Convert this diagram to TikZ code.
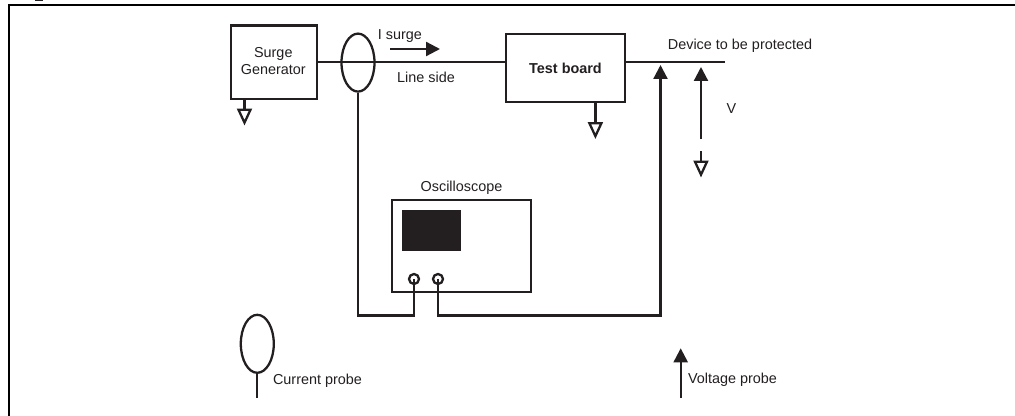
\documentclass[tikz,border=0pt]{standalone}
\usepackage{fontspec}
\setmainfont{Liberation Sans}
\usepackage{xcolor}
\usetikzlibrary{shapes, arrows.meta}
\definecolor{inkdark}{HTML}{231F20}
\tikzset{
  wire/.style={draw=inkdark,line width=1.3pt},
  unitbox/.style={wire,rectangle,inner sep=0pt,text=inkdark,align=center},
  ring/.style={wire,ellipse,inner sep=0pt,minimum width=.66cm,minimum height=1.16cm},
  jack/.style={wire,circle,inner sep=0pt,minimum size=.2cm},
  probe/.style={wire,-{Triangle[length=.28cm,width=.28cm]}},
  gnd/.style={wire,-{Triangle[open,fill=white,length=.34cm,width=.3cm]}},
  lbl/.style={text=inkdark,inner sep=0pt,align=center},
}
\begin{document}
\begin{tikzpicture}[x=.02cm,y=-.02cm,font=\fontsize{8.2}{9.8}\selectfont]
  \useasboundingbox (0,0) rectangle (1015,416);
  % page frame and caption remnant
  \draw[black,line width=1.3pt] (8.8,416) -- (8.8,5.3) -- (1015,5.3);
  \draw[inkdark,line width=.6pt] (35,.3) -- (43,.3);

  \coordinate (lineend) at (725,62);
  \coordinate (lowrun) at (0,315.5);
  \node[unitbox,minimum width=1.72cm,minimum height=1.47cm] (sgen) at (274,62.25) {};
  \node[lbl] (sgenlbl) at (273.3,60.8) {Surge\\Generator};
  \node[unitbox,minimum width=2.39cm,minimum height=1.36cm,font=\fontsize{8.2}{9.8}\selectfont\bfseries] (board) at (565.5,68) {Test board};
  \node[unitbox,minimum width=2.77cm,minimum height=1.83cm] (scope) at (461.5,246) {};
  \node[lbl] (scopelbl) at (461.5,188) {Oscilloscope};
  \node[rectangle,fill=inkdark,inner sep=0pt,minimum width=1.19cm,minimum height=.81cm] (screen) at (431.5,230.3) {};
  \node[jack] (chan1) at (414,279) {};
  \node[jack] (chan2) at (438,279) {};
  \node[ring] (iprobe) at (358,62.6) {};

  % line through the board
  \draw[wire] (sgen.east |- lineend) -- (board.west |- lineend);
  \draw[wire] (board.east |- lineend) -- (lineend);

  % grounds
  \coordinate (gnda) at (244.5,125.5);
  \coordinate (gndb) at (595.4,139);
  \coordinate (vtop) at (701,67);
  \coordinate (vbot) at (701,139);
  \coordinate (gndc) at (701,177.5);
  \coordinate (gndctop) at (701,151);
  \draw[gnd] (gnda |- sgen.south) -- (gnda);
  \draw[gnd] (gndb |- board.south) -- (gndb);
  \draw[gnd] (gndctop) -- (gndc);
  \draw[probe] (vbot) -- (vtop);

  % probe wiring
  \coordinate (vtip) at (660.5,65);
  \draw[wire] (iprobe.south) |- (chan1 |- lowrun) -- (chan1.center);
  \draw[probe] (chan2.center) |- (vtip |- lowrun) -- (vtip);

  % surge arrow
  \coordinate (isa) at (390,49);
  \coordinate (isb) at (440,49);
  \draw[probe] (isa) -- (isb);

  \node[lbl] (isurge) at (400,36) {I surge};
  \node[lbl] (lineside) at (426,77) {Line side};
  \node[lbl] (devlbl) at (740,46) {Device to be protected};
  \node[lbl] (vlbl) at (731.5,108.5) {V};

  % legend
  \node[ring] (ikey) at (257.3,343.8) {};
  \coordinate (ikeyend) at (257.3,398);
  \draw[wire] (ikey.south) -- (ikeyend);
  \node[lbl,right] (ikeylbl) at (272.7,381) {Current probe};
  \coordinate (vkeytip) at (680.7,348.3);
  \coordinate (vkeyend) at (680.7,398);
  \draw[probe] (vkeyend) -- (vkeytip);
  \node[lbl,right] (vkeylbl) at (687.7,380) {Voltage probe};
\end{tikzpicture}
\end{document}
